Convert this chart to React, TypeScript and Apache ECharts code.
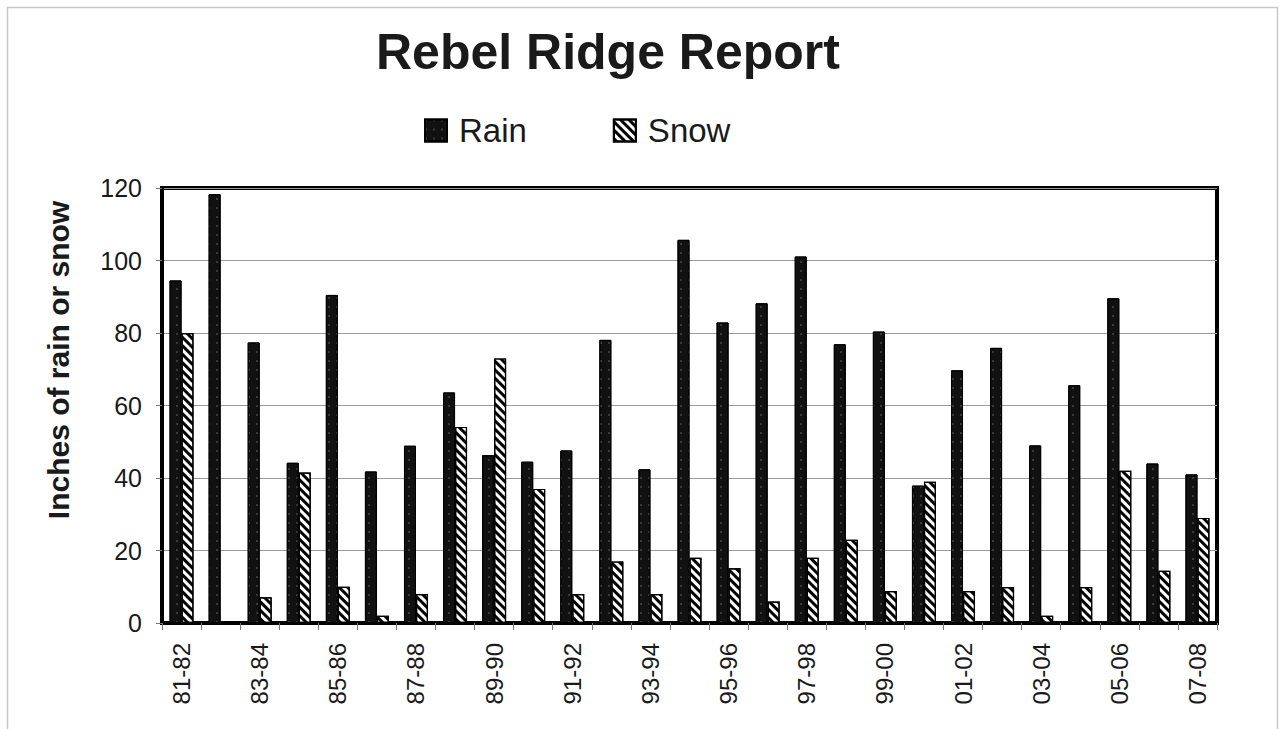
import React, { useEffect, useRef } from "react";
import * as echarts from "echarts";

const categories = [
  "81-82", "82-83", "83-84", "84-85", "85-86", "86-87", "87-88", "88-89", "89-90",
  "90-91", "91-92", "92-93", "93-94", "94-95", "95-96", "96-97", "97-98", "98-99",
  "99-00", "00-01", "01-02", "02-03", "03-04", "04-05", "05-06", "06-07", "07-08",
];
const rainValues = [
  94.5, 118.3, 77.4, 44.2, 90.5, 41.8, 48.9, 63.6, 46.3,
  44.5, 47.6, 78.1, 42.4, 105.7, 82.9, 88.2, 101.1, 76.9,
  80.4, 37.9, 69.7, 75.9, 49.0, 65.6, 89.6, 44.0, 41.0,
];
const snowValues = [
  80, 0, 7.1, 41.5, 10, 2, 8, 54.1, 73,
  37, 8, 17, 8, 18, 15.1, 5.9, 18, 23,
  8.8, 39, 8.8, 9.9, 2, 9.9, 42, 14.4, 29,
];
const yTicks = { min: 0, max: 120, interval: 20 };

const FONT = "'Liberation Sans', Arial, Helvetica, sans-serif";
const TEXT = "#1a1a1a";

export default function App() {
  const ref = useRef<HTMLDivElement>(null);
  useEffect(() => {
    if (!ref.current) return;
    const chart = echarts.init(ref.current, null, { renderer: "svg" });
    chart.setOption({
      animation: false,
      backgroundColor: "#ffffff",
      title: {
        text: "Rebel Ridge Report",
        left: 371,
        top: 22,
        textStyle: { fontFamily: FONT, fontSize: 50, fontWeight: "bold", color: TEXT },
      },
      legend: {
        left: 419,
        top: 109,
        itemWidth: 22,
        itemHeight: 22,
        itemGap: 86,
        icon: "rect",
        textStyle: { fontFamily: FONT, fontSize: 33, color: TEXT, padding: [0, 0, 0, 7] },
        data: ["Rain", "Snow"],
      },
      graphic: [
        {
          type: "rect",
          shape: { x: 7.5, y: 7.5, width: 1270, height: 740 },
          style: { fill: "none", stroke: "#c8c8c8", lineWidth: 1.5 },
          silent: true,
          z: -10,
        },
        {
          type: "text",
          x: 58,
          y: 360,
          rotation: Math.PI / 2,
          style: {
            text: "Inches of rain or snow",
            fontFamily: FONT,
            fontSize: 30,
            fontWeight: "bold",
            fill: TEXT,
            align: "center",
            verticalAlign: "middle",
          },
        },
      ],
      grid: {
        left: 162,
        top: 188,
        width: 1055,
        height: 435,
        show: true,
        borderColor: "#000",
        borderWidth: 4,
        backgroundColor: "#fff",
      },
      xAxis: {
        type: "category",
        data: categories,
        axisLine: { show: true, lineStyle: { color: "#000", width: 4 } },
        axisTick: { show: true, interval: 0, length: 7, alignWithLabel: false, lineStyle: { color: "#777", width: 1 } },
        axisLabel: {
          interval: 1,
          rotate: 90,
          margin: 20,
          fontFamily: FONT,
          fontSize: 24,
          color: TEXT,
        },
      },
      yAxis: {
        type: "value",
        min: yTicks.min,
        max: yTicks.max,
        interval: yTicks.interval,
        axisLine: { show: true, lineStyle: { color: "#000", width: 4 } },
        axisTick: { show: true, length: 6, lineStyle: { color: "#777", width: 1 } },
        axisLabel: { margin: 20, fontFamily: FONT, fontSize: 25, color: TEXT },
        splitLine: { show: true, lineStyle: { color: "#9a9a9a", width: 1 } },
      },
      series: [
        {
          name: "Rain",
          type: "bar",
          data: rainValues,
          barWidth: 12,
          barGap: "0%",
          itemStyle: {
            color: "#111",
            borderColor: "#000",
            borderWidth: 1,
            decal: {
              symbol: "circle",
              symbolSize: 0.6,
              color: "#8a8a8a",
              dashArrayX: [2, 6],
              dashArrayY: [2, 7],
              rotation: 0,
            },
          },
        },
        {
          name: "Snow",
          type: "bar",
          data: snowValues,
          barWidth: 12,
          barGap: "0%",
          itemStyle: {
            color: "#ffffff",
            borderColor: "#000",
            borderWidth: 1.2,
            decal: {
              symbol: "rect",
              symbolSize: 1,
              color: "#000",
              dashArrayX: [1, 0],
              dashArrayY: [3, 3],
              rotation: Math.PI / 4,
            },
          },
        },
      ],
    });
    return () => chart.dispose();
  }, []);
  return (
    <div
      ref={ref}
      style={{ position: "fixed", left: 0, top: 0, width: 1285, height: 729, background: "#fff" }}
    />
  );
}
